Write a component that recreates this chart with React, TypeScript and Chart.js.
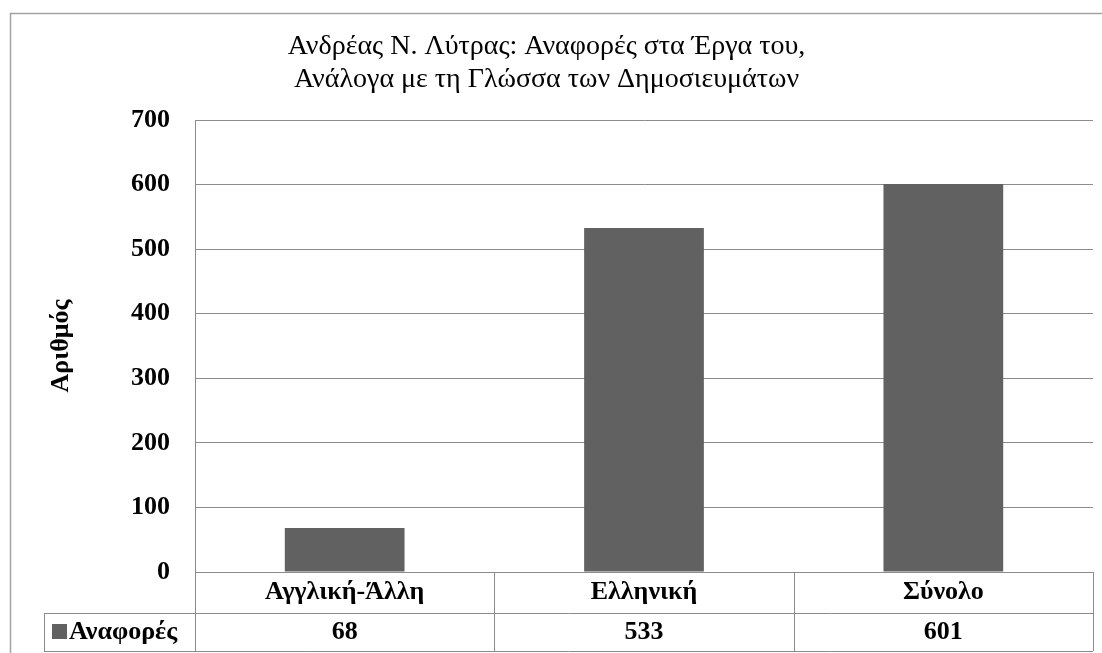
import React, { useEffect, useRef } from "react";
import { Chart, registerables } from "chart.js";

Chart.register(...registerables);

const TITLE_LINES = [
  "Ανδρέας Ν. Λύτρας: Αναφορές στα Έργα του,",
  "Ανάλογα με τη Γλώσσα των Δημοσιευμάτων",
];
const CATEGORIES = ["Αγγλική-Άλλη", "Ελληνική", "Σύνολο"];
const SERIES_NAME = "Αναφορές";
const VALUES = [68, 533, 601];
const Y_AXIS_TITLE = "Αριθμός";
const Y_MIN = 0;
const Y_MAX = 700;
const Y_STEP = 100;

const SERIF = "'Liberation Serif', 'Times New Roman', serif";
const BAR_COLOR = "#616161";
const LINE_COLOR = "#8c8c8c";

const framePlugin = {
  id: "frame",
  beforeDraw(chart: any) {
    const { ctx, width, height } = chart;
    ctx.save();
    ctx.fillStyle = "#ffffff";
    ctx.fillRect(0, 0, width, height);
    ctx.strokeStyle = "#a3a3a3";
    ctx.lineWidth = 1.5;
    ctx.beginPath();
    ctx.moveTo(10.5, height + 2);
    ctx.lineTo(10.5, 13.5);
    ctx.lineTo(width + 2, 13.5);
    ctx.stroke();
    ctx.restore();
  },
};

const tablePlugin = {
  id: "dataTable",
  afterDraw(chart: any) {
    const { ctx, chartArea } = chart;
    const x = chart.scales.x;
    const n = CATEGORIES.length;
    const half = (x.getPixelForValue(1) - x.getPixelForValue(0)) / 2;
    const top = chartArea.bottom;
    const rowMid = top + 41;
    const bottom = top + 79;
    const legendLeft = 44;
    const bounds: number[] = [];
    for (let i = 0; i < n; i++) bounds.push(x.getPixelForValue(i) - half);
    bounds.push(x.getPixelForValue(n - 1) + half);

    ctx.save();
    ctx.strokeStyle = LINE_COLOR;
    ctx.lineWidth = 1;
    ctx.beginPath();
    const al = (v: number) => Math.round(v) + 0.5;
    ctx.moveTo(bounds[0], al(top));
    ctx.lineTo(bounds[n], al(top));
    ctx.moveTo(legendLeft, al(rowMid));
    ctx.lineTo(bounds[n], al(rowMid));
    ctx.moveTo(legendLeft, al(bottom));
    ctx.lineTo(bounds[n], al(bottom));
    bounds.forEach((b) => {
      ctx.moveTo(al(b), top);
      ctx.lineTo(al(b), bottom);
    });
    ctx.moveTo(al(legendLeft), rowMid);
    ctx.lineTo(al(legendLeft), bottom);
    ctx.stroke();

    const cy = (rowMid + bottom) / 2;
    ctx.fillStyle = BAR_COLOR;
    ctx.fillRect(52, cy - 8, 15, 15);
    ctx.fillStyle = "#000";
    ctx.textBaseline = "middle";
    ctx.textAlign = "left";
    ctx.font = `bold 26px ${SERIF}`;
    ctx.fillText(SERIES_NAME, 69, cy);
    ctx.textAlign = "center";
    ctx.font = `bold 26px ${SERIF}`;
    VALUES.forEach((v, i) => {
      ctx.fillText(String(v), x.getPixelForValue(i), cy);
    });
    ctx.restore();
  },
};

export default function App() {
  const ref = useRef<HTMLCanvasElement | null>(null);
  useEffect(() => {
    if (!ref.current) return;
    const chart = new Chart(ref.current, {
      type: "bar",
      data: {
        labels: CATEGORIES,
        datasets: [
          {
            label: SERIES_NAME,
            data: VALUES,
            backgroundColor: BAR_COLOR,
            borderWidth: 0,
            barPercentage: 0.4,
            categoryPercentage: 1,
          },
        ],
      },
      options: {
        animation: false,
        responsive: true,
        maintainAspectRatio: false,
        layout: { padding: { left: 0, right: 9, top: 0, bottom: 0 } },
        plugins: {
          legend: { display: false },
          tooltip: { enabled: false },
          title: {
            display: true,
            text: TITLE_LINES,
            color: "#000",
            font: { family: SERIF, size: 28, weight: "normal", lineHeight: 1.18 },
            padding: { top: 30, bottom: 24 },
          },
        },
        scales: {
          x: {
            grid: { display: false, drawTicks: false },
            border: { display: false },
            ticks: {
              color: "#000",
              font: { family: SERIF, size: 26, weight: "bold" },
              padding: 5,
              maxRotation: 0,
            },
            afterFit(scale: any) {
              scale.height = 81;
            },
          },
          y: {
            min: Y_MIN,
            max: Y_MAX,
            ticks: {
              stepSize: Y_STEP,
              color: "#000",
              font: { family: SERIF, size: 26, weight: "bold" },
              padding: 25,
            },
            grid: { color: LINE_COLOR, drawTicks: false },
            border: { display: true, color: LINE_COLOR },
            title: {
              display: true,
              text: Y_AXIS_TITLE,
              color: "#000",
              font: { family: SERIF, size: 26, weight: "bold" },
              padding: { top: 46, bottom: 0 },
            },
            afterFit(scale: any) {
              scale.width = 195;
            },
          },
        },
      },
      plugins: [framePlugin, tablePlugin],
    });
    return () => chart.destroy();
  }, []);
  return (
    <div style={{ position: "absolute", left: 0, top: 0, width: 1102, height: 653 }}>
      <canvas ref={ref} />
    </div>
  );
}
